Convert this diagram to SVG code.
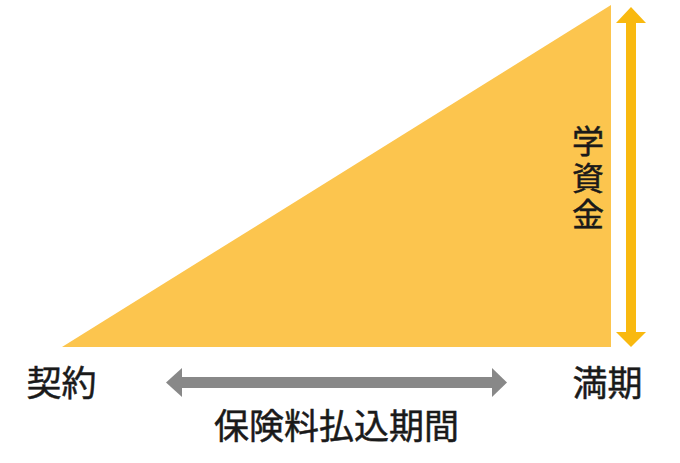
<svg xmlns="http://www.w3.org/2000/svg" width="680" height="463" viewBox="0 0 680 463">
<style>
.lbl{font-family:"Noto Sans CJK JP","Noto Sans CJK SC",sans-serif;fill:#1a1a1a;stroke:#1a1a1a;stroke-width:0.5;text-anchor:middle}
.vert{writing-mode:vertical-rl;text-anchor:start}
</style>
<rect width="680" height="463" fill="#ffffff"/>
<g id="area">
<polygon points="62,347 611,5 611,347" fill="#FCC54E"/>
</g>
<g id="connectors">
<g id="amount-arrow" fill="#F9B90F">
<rect x="626" y="22" width="10" height="311"/>
<polygon points="631,7 646,23 616,23"/>
<polygon points="631,347 646,332 616,332"/>
</g>
<g id="period-arrow" fill="#888888">
<rect x="181" y="377" width="312" height="11"/>
<polygon points="166,382.5 182,368 182,397"/>
<polygon points="507,382.5 492,368 492,397"/>
</g>
</g>
<g id="contract"><text class="lbl" x="61.5" y="396" font-size="35">契約</text></g>
<g id="maturity"><text class="lbl" x="607.5" y="396" font-size="35">満期</text></g>
<g id="period"><text class="lbl" x="336.5" y="439" font-size="35">保険料払込期間</text></g>
<g id="fund">
<text class="lbl vert" x="588" y="125" font-size="32" letter-spacing="4.5">学資金</text>
</g>
</svg>
